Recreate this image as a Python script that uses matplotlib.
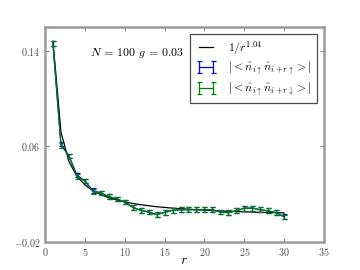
import numpy as np
import matplotlib
matplotlib.use('Agg')
import matplotlib.pyplot as plt

plt.rcParams['mathtext.fontset'] = 'cm'
plt.rcParams['font.family'] = 'serif'
plt.rcParams['font.serif'] = ['cmr10']
plt.rcParams['axes.formatter.use_mathtext'] = True
plt.rcParams['font.size'] = 8

r = np.arange(1, 31)
# |<n_up n_up>| and |<n_up n_down>|
nn_uu = [0.146, 0.062, 0.052, 0.036, 0.031, 0.023, 0.021, 0.018, 0.016, 0.0135,
         0.009, 0.0065, 0.005, 0.003, 0.0047, 0.0064, 0.007, 0.007, 0.007, 0.007,
         0.007, 0.005, 0.0045, 0.006, 0.0083, 0.0083, 0.007, 0.006, 0.0045, 0.001]
nn_ud = [0.146, 0.061, 0.052, 0.035, 0.031, 0.0223, 0.021, 0.018, 0.016, 0.0134,
         0.009, 0.0064, 0.005, 0.0027, 0.0047, 0.0064, 0.007, 0.007, 0.007, 0.007,
         0.007, 0.005, 0.0045, 0.006, 0.0083, 0.0083, 0.007, 0.006, 0.0045, 0.0008]
err = [0.002] * 30
fit = [0.148, 0.072, 0.0473, 0.035, 0.0278, 0.0229, 0.0196, 0.017, 0.0151, 0.0135,
       0.0122, 0.0112, 0.0103, 0.0095, 0.0089, 0.0083, 0.0078, 0.0074, 0.0070, 0.0066,
       0.0063, 0.0060, 0.0057, 0.0055, 0.0052, 0.0050, 0.0048, 0.0046, 0.0045, 0.0043]

fig = plt.figure(figsize=(4, 3), dpi=90)
ax = fig.add_axes([0.125, 0.104, 0.775, 0.796])

ax.plot(r, fit, 'k-', lw=1, label=r'$\mathit{1/r^{1.04}}$')
ax.errorbar(r, nn_uu, yerr=err, color='b', lw=1, capsize=2,
            label=r'$|<\hat{n}_{i\uparrow}\hat{n}_{i+r\uparrow}>|$')
ax.errorbar(r, nn_ud, yerr=err, color='g', lw=1, capsize=2,
            label=r'$|<\hat{n}_{i\uparrow}\hat{n}_{i+r\downarrow}>|$')

ax.text(0.16, 0.865, r'$N\,=\,\mathit{100}\;\,g\,=\,\mathit{0.03}$',
        transform=ax.transAxes, fontsize=9.5)

ax.set_xlim(0, 35)
ax.set_ylim(-0.02, 0.16)
ax.set_xticks(range(0, 36, 5))
ax.set_yticks([-0.02, 0.06, 0.14])
ax.set_xlabel(r'$r$', fontsize=11, labelpad=-3)
ax.tick_params(direction='in', top=True, right=True, length=3, colors='0.5',
               labelcolor='0.3')
for s in ax.spines.values():
    s.set_color('0.6')
    s.set_linewidth(2)

leg = ax.legend(loc='upper right', fontsize=9.5, fancybox=False, framealpha=1,
                numpoints=2, handlelength=1.8, labelspacing=0.25,
                handletextpad=1.0, borderaxespad=0.6)
leg.get_frame().set_edgecolor('0.3')

fig.savefig('out.png', dpi=90)
